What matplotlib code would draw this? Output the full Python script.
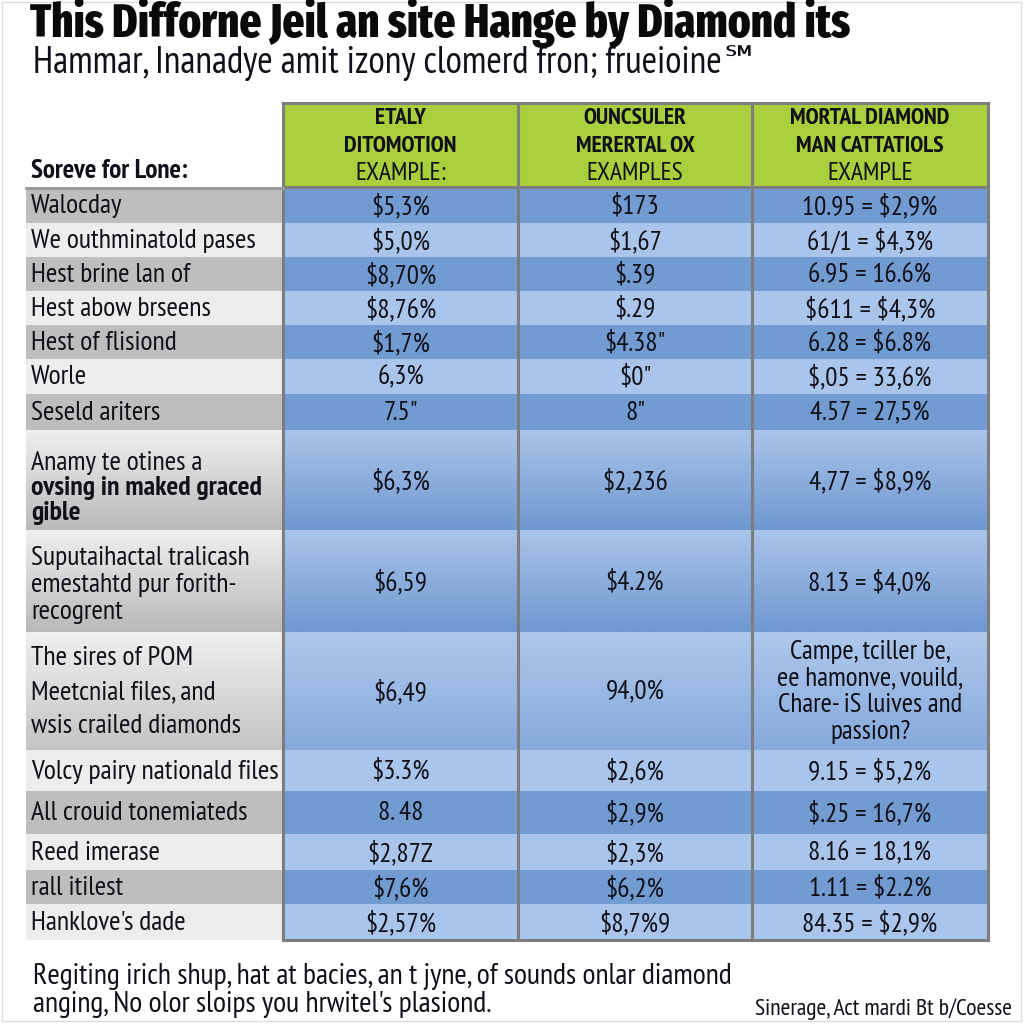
import matplotlib.pyplot as plt
import numpy as np
from matplotlib.patches import Rectangle
from matplotlib.colors import to_rgb

plt.rcParams['font.family'] = ['PT Sans Narrow', 'DejaVu Sans']
TITLE_FONT = ['Fira Sans Extra Condensed', 'DejaVu Sans']

# texts
title = "This Difforne Jeil an site Hange by Diamond its"
subtitle = "Hammar, Inanadye amit izony clomerd fron; frueioine\u2120"
corner_label = "Soreve for Lone:"
col_headers = [
    ["ETALY", "DITOMOTION", "EXAMPLE:"],
    ["OUNCSULER", "MERERTAL OX", "EXAMPLES"],
    ["MORTAL DIAMOND", "MAN CATTATIOLS", "EXAMPLE"],
]
row_labels = [
    "Walocday", "We outhminatold pases", "Hest brine lan of", "Hest abow brseens",
    "Hest of flisiond", "Worle", "Seseld ariters",
    "Anamy te otines a\novsing in maked graced\ngible",
    "Suputaihactal tralicash\nemestahtd pur forith-\nrecogrent",
    "The sires of POM\nMeetcnial files, and\nwsis crailed diamonds",
    "Volcy pairy nationald files", "All crouid tonemiateds", "Reed imerase",
    "rall itilest", "Hanklove's dade",
]
col1 = ["$5,3%", "$5,0%", "$8,70%", "$8,76%", "$1,7%", "6,3%", "7.5\"", "$6,3%",
        "$6,59", "$6,49", "$3.3%", "8. 48", "$2,87Z", "$7,6%", "$2,57%"]
col2 = ["$173", "$1,67", "$.39", "$.29", "$4.38\"", "$0\"", "8\"", "$2,236",
        "$4.2%", "94,0%", "$2,6%", "$2,9%", "$2,3%", "$6,2%", "$8,7%9"]
col3 = ["10.95 = $2,9%", "61/1 = $4,3%", "6.95 = 16.6%", "$611 = $4,3%",
        "6.28 = $6.8%", "$,05 = 33,6%", "4.57 = 27,5%", "4,77 = $8,9%",
        "8.13 = $4,0%",
        "Campe, tciller be,\nee hamonve, vouild,\nChare- iS luives and\npassion?",
        "9.15 = $5,2%", "$.25 = 16,7%", "8.16 = 18,1%", "1.11 = $2.2%",
        "84.35 = $2,9%"]
bold_label_lines = {7: [1, 2]}
footer = ["Regiting irich shup, hat at bacies, an t jyne, of sounds onlar diamond",
          "anging, No olor sloips you hrwitel's plasiond."]
source = "Sinerage, Act mardi Bt b/Coesse"

# layout (pixels)
col_edges = [26, 283, 518, 752, 988]
header_top, header_bot = 103, 187
row_edges = [187, 223, 257, 291, 325, 359, 394, 430, 530, 632, 750, 791, 834, 870, 904, 940]
shade = ['d', 'l', 'd', 'l', 'd', 'l', 'd', 'g', 'g', 'gl', 'l', 'd', 'l', 'd', 'l']
label_gap = {7: 25, 8: 27, 9: 34}
label_shift = {7: 8, 8: 4, 9: 1}

BLUE_D, BLUE_L = '#729bd2', '#aac5eb'
GRAY_D, GRAY_L = '#bebebe', '#ededed'
GREEN = '#a9d03c'
LINE = '#7d7d7d'
INK = '#101018'

fig = plt.figure(figsize=(10.24, 10.24), dpi=100)
ax = fig.add_axes([0, 0, 1, 1])


def grad(x0, x1, y0, y1, c_top, c_bot):
    t = np.linspace(0, 1, 64)[:, None]
    a, b = np.array(to_rgb(c_top)), np.array(to_rgb(c_bot))
    img = (a * (1 - t) + b * t)[:, None, :]
    ax.imshow(img, extent=(x0, x1, y1, y0), aspect='auto', interpolation='bilinear', zorder=1)


def put(x, y, s, **kw):
    kw.setdefault('color', INK)
    kw.setdefault('va', 'center')
    ax.text(x, y, s, parse_math=False, **kw)


# body cells
for i, s in enumerate(shade):
    y0, y1 = row_edges[i], row_edges[i + 1]
    if s == 'd':
        ax.add_patch(Rectangle((col_edges[0], y0), col_edges[1] - col_edges[0], y1 - y0, color=GRAY_D, lw=0, zorder=1))
        ax.add_patch(Rectangle((col_edges[1], y0), col_edges[4] - col_edges[1], y1 - y0, color=BLUE_D, lw=0, zorder=1))
    elif s == 'l':
        ax.add_patch(Rectangle((col_edges[0], y0), col_edges[1] - col_edges[0], y1 - y0, color=GRAY_L, lw=0, zorder=1))
        ax.add_patch(Rectangle((col_edges[1], y0), col_edges[4] - col_edges[1], y1 - y0, color=BLUE_L, lw=0, zorder=1))
    elif s == 'g':
        grad(col_edges[0], col_edges[1], y0, y1, '#efefef', '#b9b9b9')
        grad(col_edges[1], col_edges[4], y0, y1, '#a9c4ea', '#6f98d0')
    else:
        grad(col_edges[0], col_edges[1], y0, y1, '#f0f0f0', '#c4c4c4')
        grad(col_edges[1], col_edges[4], y0, y1, '#aec8ec', '#86a9dc')

# header
ax.add_patch(Rectangle((col_edges[1], header_top), col_edges[4] - col_edges[1], header_bot - header_top,
                       color=GREEN, lw=0, zorder=1))

# grid lines
for x in col_edges[1:]:
    ax.plot([x, x], [header_top, row_edges[-1]], color=LINE, lw=2.2, zorder=3, solid_capstyle='projecting')
for y in [header_top, header_bot, row_edges[-1]]:
    ax.plot([col_edges[1], col_edges[4]], [y, y], color=LINE, lw=2.2, zorder=3, solid_capstyle='projecting')
ax.plot([col_edges[0], col_edges[1]], [header_bot + 1, header_bot + 1], color='#999999', lw=2, zorder=3)

# titles
put(30, 37, title, fontsize=33.5, fontweight=800, family=TITLE_FONT, color='#0a0a0a',
    ha='left', va='baseline')
put(33, 63, subtitle, fontsize=27, ha='left')

# header text
for j, lines in enumerate(col_headers):
    cx = (col_edges[j + 1] + col_edges[j + 2]) / 2
    for k, (txt, yy) in enumerate(zip(lines, [119, 146, 173])):
        put(cx, yy, txt, fontsize=17 if k < 2 else 18.5, fontweight='bold' if k < 2 else 'normal', ha='center')
put(31, 171, corner_label, fontsize=19.5, fontweight='bold', ha='left')

# body text
for i in range(len(row_labels)):
    yc = (row_edges[i] + row_edges[i + 1]) / 2
    lines = row_labels[i].split('\n')
    gap = label_gap.get(i, 26)
    for k, ln in enumerate(lines):
        yy = yc + label_shift.get(i, 1) + (k - (len(lines) - 1) / 2) * gap
        bold = k in bold_label_lines.get(i, [])
        put(31, yy, ln, fontsize=20, fontweight='bold' if bold else 'normal', ha='left')
    for j, col in enumerate([col1, col2, col3]):
        cx = (col_edges[j + 1] + col_edges[j + 2]) / 2
        vlines = col[i].split('\n')
        for k, ln in enumerate(vlines):
            yy = yc + 1 + (k - (len(vlines) - 1) / 2) * 27
            put(cx, yy, ln, fontsize=19.5, ha='center')

# footer
put(33, 976, footer[0], fontsize=21.5, ha='left')
put(33, 1005, footer[1], fontsize=21.5, ha='left')
put(1012, 1009, source, fontsize=17, ha='right')

ax.add_patch(Rectangle((2, 2), 1019, 1019, fill=False, edgecolor='#dddddd', lw=1, zorder=0))
ax.set_xlim(0, 1024)
ax.set_ylim(1024, 0)
ax.axis('off')
fig.savefig('out.png', dpi=100, facecolor='white')
